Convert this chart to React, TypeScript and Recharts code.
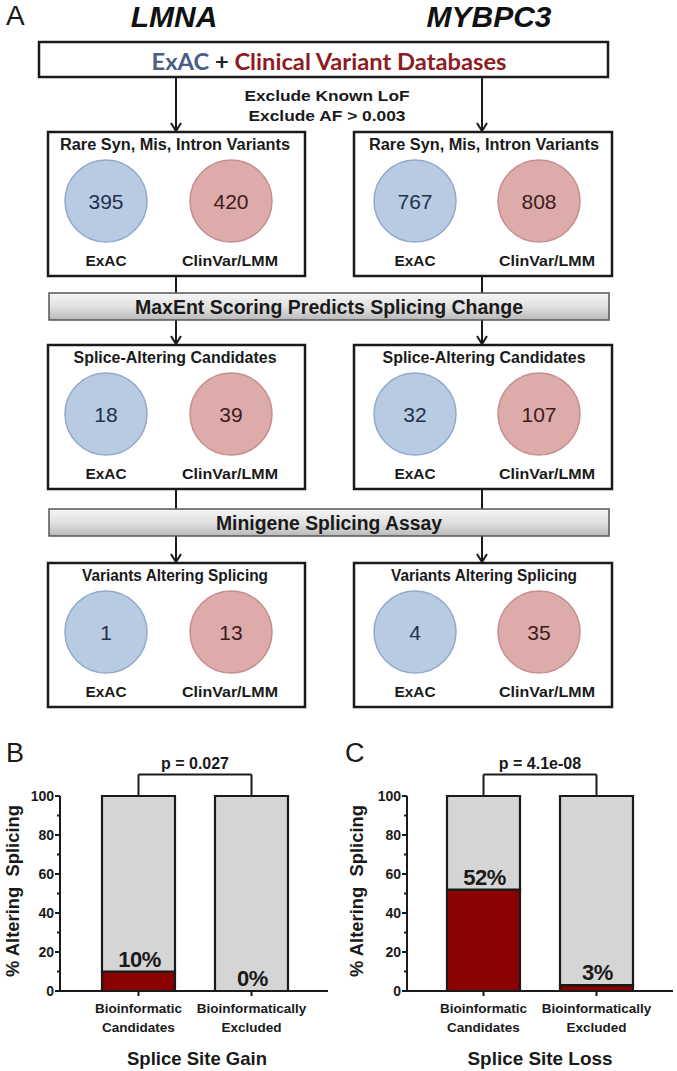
import React from 'react';
import { BarChart, Bar, XAxis, YAxis, ReferenceLine, LabelList } from 'recharts';

const FONT = "'Liberation Sans', Arial, Helvetica, sans-serif";
const DARK = '#1a1a1a';

// ---------- Panel A data ----------
const genes = ['LMNA', 'MYBPC3'];
const sourceTitleParts = ['ExAC', ' + ', 'Clinical Variant Databases'];
const filterLines = ['Exclude Known LoF', 'Exclude AF > 0.003'];
const stageTitles = ['Rare Syn, Mis, Intron Variants', 'Splice-Altering Candidates', 'Variants Altering Splicing'];
const stepTitles = ['MaxEnt Scoring Predicts Splicing Change', 'Minigene Splicing Assay'];
const sourceLabels = ['ExAC', 'ClinVar/LMM'];
const lmnaExac = [395, 18, 1];
const lmnaClinvar = [420, 39, 13];
const mybpc3Exac = [767, 32, 4];
const mybpc3Clinvar = [808, 107, 35];

// ---------- Panel B / C data ----------
const catLine1 = ['Bioinformatic', 'Bioinformatically'];
const catLine2 = ['Candidates', 'Excluded'];
const gainPct = [10, 0];
const lossPct = [52, 3];
const yTicks = [0, 10, 20, 30, 40, 50, 60, 70, 80, 90, 100];
const pValues = ['p = 0.027', 'p = 4.1e-08'];
const chartTitles = ['Splice Site Gain', 'Splice Site Loss'];
const yAxisTitle = '% Altering  Splicing';

// ---------- layout (flowchart) ----------
const cols = [
  { boxX: 48, boxW: 257, arrowX: 176, headerX: 175, blueX: 106, redX: 231, exacX: 106, clinX: 230, geneX: 174 },
  { boxX: 354, boxW: 258, arrowX: 482, headerX: 484, blueX: 415, redX: 539, exacX: 415, clinX: 547, geneX: 489 },
];
const rowTops = [132, 345, 563];
const BOX_H = 144;
const headerW = [230, 203, 186];
const stepTops = [293, 509];
const stepH = 27;
const stepW = [388, 226];
const CIRCLE_R = 41;

const colData = [
  { exac: lmnaExac, clin: lmnaClinvar },
  { exac: mybpc3Exac, clin: mybpc3Clinvar },
];

function Arrow({ x, y1, y2 }: { x: number; y1: number; y2: number }) {
  return (
    <g stroke={DARK} strokeWidth={2} fill="none">
      <line x1={x} x2={x} y1={y1} y2={y2 - 1} />
      <polyline points={`${x - 5},${y2 - 9} ${x},${y2 - 1} ${x + 5},${y2 - 9}`} />
    </g>
  );
}

function FitText(props: any) {
  const { x, y, w, fs, weight = 'bold', fill = DARK, family = FONT, children, style } = props;
  return (
    <text
      x={x}
      y={y}
      textAnchor="middle"
      dominantBaseline="central"
      fontSize={fs}
      fontWeight={weight}
      fontFamily={family}
      fill={fill}
      textLength={w}
      lengthAdjust="spacingAndGlyphs"
      style={style}
    >
      {children}
    </text>
  );
}

function Flowchart() {
  return (
    <svg width={677} height={1071} style={{ position: 'absolute', left: 0, top: 0 }}>
      <defs>
        <linearGradient id="gbar" x1="0" y1="0" x2="0" y2="1">
          <stop offset="0" stopColor="#f6f6f6" />
          <stop offset="0.55" stopColor="#dedede" />
          <stop offset="1" stopColor="#b9b9b9" />
        </linearGradient>
      </defs>
      <rect x={0} y={0} width={677} height={1071} fill="#ffffff" />
      <text x={6} y={25} fontSize={28} fontFamily={FONT} fill={DARK}>A</text>
      {genes.map((g, i) => (
        <text key={g} x={cols[i].geneX} y={27} textAnchor="middle" fontSize={30} fontWeight="bold" fontStyle="italic" fontFamily={FONT} fill="#111">
          {g}
        </text>
      ))}
      {/* source box */}
      <rect x={39} y={42} width={569} height={35} fill="#fff" stroke={DARK} strokeWidth={2.5} />
      <FitText x={329} y={61} w={355} fs={22} family="Lato, 'Open Sans', sans-serif">
        <tspan fill="#4b5e87">{sourceTitleParts[0]}</tspan>
        <tspan fill="#222">{sourceTitleParts[1]}</tspan>
        <tspan fill="#8d1c24">{sourceTitleParts[2]}</tspan>
      </FitText>
      <FitText x={327} y={95} w={165} fs={15}>{filterLines[0]}</FitText>
      <FitText x={327} y={115} w={157} fs={15}>{filterLines[1]}</FitText>
      {cols.map((c, ci) => (
        <g key={ci}>
          <Arrow x={c.arrowX} y1={77} y2={rowTops[0]} />
          {stageTitles.map((st, ri) => {
            const top = rowTops[ri];
            const cy = top + 69;
            return (
              <g key={ri}>
                <rect x={c.boxX} y={top} width={c.boxW} height={BOX_H} fill="#fff" stroke={DARK} strokeWidth={2.5} />
                <FitText x={c.headerX} y={top + 12} w={headerW[ri]} fs={16}>{st}</FitText>
                <circle cx={c.blueX} cy={cy} r={CIRCLE_R} fill="#b9cae3" stroke="#93a9cb" strokeWidth={1.5} />
                <circle cx={c.redX} cy={cy} r={CIRCLE_R} fill="#dcabaa" stroke="#c58f8e" strokeWidth={1.5} />
                <text x={c.blueX} y={cy} textAnchor="middle" dominantBaseline="central" fontSize={21} fontFamily={FONT} fill="#22304d">
                  {colData[ci].exac[ri]}
                </text>
                <text x={c.redX} y={cy} textAnchor="middle" dominantBaseline="central" fontSize={21} fontFamily={FONT} fill="#3d1c1c">
                  {colData[ci].clin[ri]}
                </text>
                <FitText x={c.exacX} y={top + 128} w={41} fs={15}>{sourceLabels[0]}</FitText>
                <FitText x={c.clinX} y={top + 128} w={96} fs={15}>{sourceLabels[1]}</FitText>
              </g>
            );
          })}
          {stepTops.map((sy, si) => (
            <g key={si}>
              <line x1={c.arrowX} x2={c.arrowX} y1={rowTops[si] + BOX_H} y2={sy} stroke={DARK} strokeWidth={2} />
              <Arrow x={c.arrowX} y1={sy + stepH} y2={rowTops[si + 1]} />
            </g>
          ))}
        </g>
      ))}
      {stepTitles.map((s, si) => (
        <g key={s}>
          <rect x={49} y={stepTops[si]} width={560} height={stepH} fill="url(#gbar)" stroke="#555" strokeWidth={1.5} />
          <FitText x={329} y={stepTops[si] + 14} w={stepW[si]} fs={20}>{s}</FitText>
        </g>
      ))}
      {/* panel B / C letters and axis titles */}
      <text x={6} y={762} fontSize={27} fontFamily={FONT} fill={DARK}>B</text>
      <text x={345} y={762} fontSize={27} fontFamily={FONT} fill={DARK}>C</text>
      <text x={197} y={1065} textAnchor="middle" fontSize={19} fontWeight="bold" fontFamily={FONT} fill={DARK} textLength={140} lengthAdjust="spacingAndGlyphs">{chartTitles[0]}</text>
      <text x={540} y={1065} textAnchor="middle" fontSize={19} fontWeight="bold" fontFamily={FONT} fill={DARK} textLength={145} lengthAdjust="spacingAndGlyphs">{chartTitles[1]}</text>
      {[12, 356].map((x) => (
        <text key={x} x={x} y={891} transform={`rotate(-90 ${x} 891)`} textAnchor="middle" dominantBaseline="central" fontSize={19} fontWeight="bold" fontFamily={FONT} fill={DARK} textLength={172} lengthAdjust="spacingAndGlyphs" style={{ whiteSpace: 'pre' }}>
          {yAxisTitle}
        </text>
      ))}
    </svg>
  );
}

const YTick = (props: any) => {
  const { x, y, payload } = props;
  const major = payload.value % 20 === 0;
  return (
    <g>
      <line x1={x - (major ? 5 : 3)} x2={x} y1={y} y2={y} stroke={DARK} strokeWidth={2} />
      {major && (
        <text x={x - 6} y={y} dy={5} textAnchor="end" fontSize={14} fontWeight="bold" fontFamily={FONT} fill={DARK}>
          {payload.value}
        </text>
      )}
    </g>
  );
};

const CatTick = (props: any) => {
  const { x, y, index } = props;
  return (
    <text x={x} y={y} textAnchor="middle" fontSize={13.5} fontWeight="bold" fontFamily={FONT} fill={DARK}>
      <tspan x={x} y={y + 17}>{catLine1[index]}</tspan>
      <tspan x={x} y={y + 36}>{catLine2[index]}</tspan>
    </text>
  );
};

// label drawn just above the boundary between the red and the grey segment
const PctLabel = (props: any) => {
  const { x, y, width, height, value } = props;
  return (
    <text
      x={x + width / 2 + 1}
      y={y + height - 5}
      textAnchor="middle"
      fontSize={22}
      fontWeight="bold"
      fontFamily={FONT}
      fill={DARK}
      letterSpacing={-0.5}
    >
      {`${value}%`}
    </text>
  );
};

const names = catLine1.map((a, i) => `${a} ${catLine2[i]}`);

function SpliceChart({ left, width, pct, marginLeft, marginRight, pText, padL, padR }: any) {
  const data = names.map((n, i) => ({ name: n, hit: pct[i], rest: 100 - pct[i] }));
  return (
    <div style={{ position: 'absolute', left, top: 740, width, height: 331 }}>
      <BarChart
        width={width}
        height={331}
        data={data}
        margin={{ top: 56, right: marginRight, bottom: 40, left: marginLeft }}
        barSize={73}
      >
        <XAxis
          dataKey="name"
          interval={0}
          height={40}
          padding={{ left: padL, right: padR }}
          axisLine={{ stroke: DARK, strokeWidth: 2 }}
          tickLine={{ stroke: DARK, strokeWidth: 2 }}
          tickSize={5}
          tickMargin={0}
          tick={<CatTick />}
        />
        <YAxis
          width={50}
          domain={[0, 100]}
          ticks={yTicks}
          interval={0}
          tickSize={0}
          tickMargin={0}
          tickLine={false}
          axisLine={{ stroke: DARK, strokeWidth: 2 }}
          tick={<YTick />}
        />
        <Bar dataKey="hit" stackId="s" fill="#8b0000" stroke={DARK} strokeWidth={2.2} isAnimationActive={false} />
        <Bar dataKey="rest" stackId="s" fill="#d5d5d5" stroke={DARK} strokeWidth={2.2} isAnimationActive={false}>
          <LabelList dataKey="hit" content={<PctLabel />} />
        </Bar>
        <ReferenceLine segment={[{ x: names[0], y: 100 }, { x: names[0], y: 111 }]} stroke={DARK} strokeWidth={2} ifOverflow="visible" />
        <ReferenceLine
          segment={[{ x: names[0], y: 111 }, { x: names[1], y: 111 }]}
          stroke={DARK}
          strokeWidth={2}
          ifOverflow="visible"
          label={{ value: pText, position: 'top', offset: 6, fontSize: 16, fontWeight: 'bold', fill: DARK, fontFamily: FONT }}
        />
        <ReferenceLine segment={[{ x: names[1], y: 111 }, { x: names[1], y: 100 }]} stroke={DARK} strokeWidth={2} ifOverflow="visible" />
      </BarChart>
    </div>
  );
}

export default function App() {
  return (
    <div style={{ position: 'absolute', left: 0, top: 0, width: 677, height: 1071, background: '#fff', fontFamily: FONT }}>
      <Flowchart />
      <SpliceChart left={0} width={340} pct={gainPct} marginLeft={10} marginRight={12} pText={pValues[0]} padL={22} padR={20} />
      <SpliceChart left={340} width={337} pct={lossPct} marginLeft={17} marginRight={4} pText={pValues[1]} padL={20} padR={20} />
    </div>
  );
}
